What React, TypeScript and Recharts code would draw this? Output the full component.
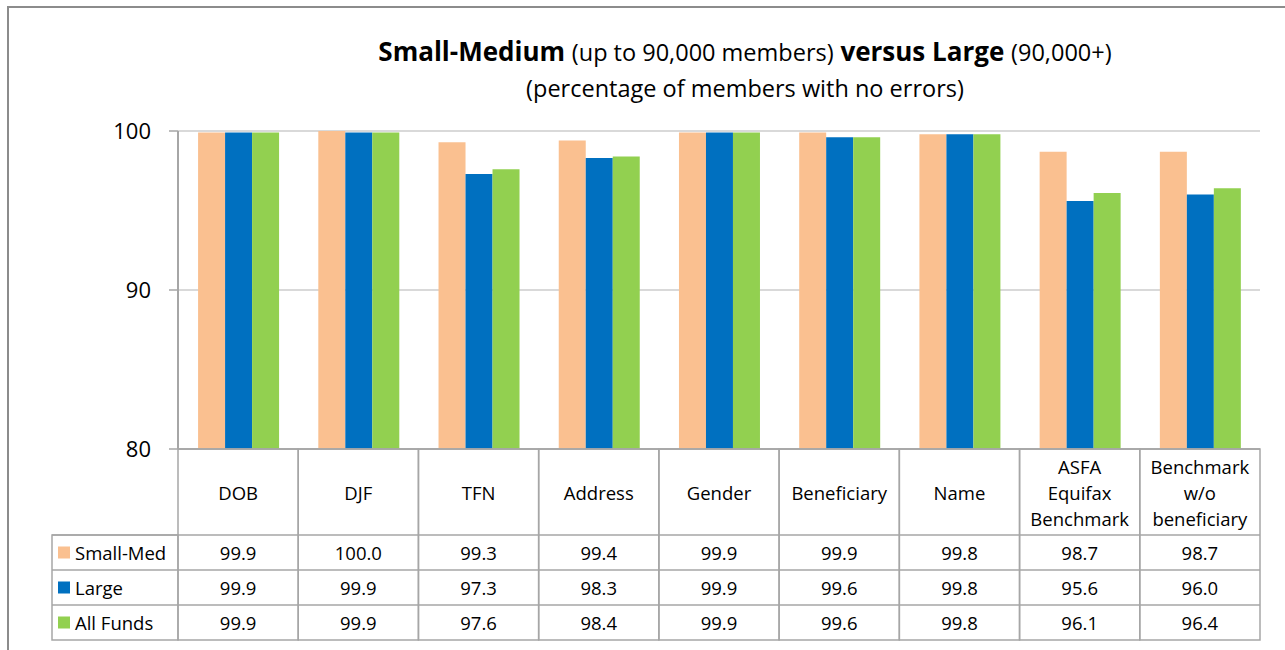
import React from 'react';
import { BarChart, Bar, XAxis, YAxis, CartesianGrid } from 'recharts';

const categories = ['DOB', 'DJF', 'TFN', 'Address', 'Gender', 'Beneficiary', 'Name', 'ASFA\nEquifax\nBenchmark', 'Benchmark\nw/o\nbeneficiary'];
const smallMed = [99.9, 100.0, 99.3, 99.4, 99.9, 99.9, 99.8, 98.7, 98.7];
const large = [99.9, 99.9, 97.3, 98.3, 99.9, 99.6, 99.8, 95.6, 96.0];
const allFunds = [99.9, 99.9, 97.6, 98.4, 99.9, 99.6, 99.8, 96.1, 96.4];
const yTicks = [80, 90, 100];

const seriesList = [
  { key: 'smallMed', name: 'Small-Med', color: '#FAC090', values: smallMed },
  { key: 'large', name: 'Large', color: '#0070C0', values: large },
  { key: 'allFunds', name: 'All Funds', color: '#92D050', values: allFunds },
];

const data = categories.map((name, i) => ({
  name,
  smallMed: smallMed[i],
  large: large[i],
  allFunds: allFunds[i],
}));

const W = 1285;
const H = 650;
const LEFT = 178;
const RIGHT = 25;
const TOP = 131;
const AXIS_H = 201;
const COL_W = (W - LEFT - RIGHT) / categories.length;
const HEAD_H = 86;
const ROW_H = 35;
const LABEL_W = 126;
const FONT = '"Open Sans", sans-serif';
const LINE = '#a6a6a6';

const TableTick = (props: any) => {
  const { x, y, payload, index } = props;
  const left = x - COL_W / 2;
  const lines = String(payload.value).split('\n');
  const midHead = y + HEAD_H / 2;
  return (
    <g fontFamily={FONT} fontSize={18.5} fill="#000">
      <rect x={left} y={y} width={COL_W} height={HEAD_H + ROW_H * 3} fill="none" stroke={LINE} strokeWidth={1.5} />
      {seriesList.map((s, r) => (
        <line key={s.key} x1={left} x2={left + COL_W} y1={y + HEAD_H + ROW_H * r} y2={y + HEAD_H + ROW_H * r} stroke={LINE} strokeWidth={1.5} />
      ))}
      <text x={x} y={midHead - ((lines.length - 1) * 26) / 2} textAnchor="middle" dominantBaseline="central">
        {lines.map((l, i) => (
          <tspan key={i} x={x} dy={i === 0 ? 0 : 26}>{l}</tspan>
        ))}
      </text>
      {seriesList.map((s, r) => (
        <text key={s.key} x={x} y={y + HEAD_H + ROW_H * r + ROW_H / 2} textAnchor="middle" dominantBaseline="central">
          {s.values[index].toFixed(1)}
        </text>
      ))}
      {index === 0 && (
        <g>
          <rect x={left - LABEL_W} y={y + HEAD_H} width={LABEL_W} height={ROW_H * 3} fill="none" stroke={LINE} strokeWidth={1.5} />
          {seriesList.map((s, r) => {
            const cy = y + HEAD_H + ROW_H * r + ROW_H / 2;
            return (
              <g key={s.key}>
                <line x1={left - LABEL_W} x2={left} y1={cy - ROW_H / 2} y2={cy - ROW_H / 2} stroke={LINE} strokeWidth={1.5} />
                <rect x={left - LABEL_W + 6} y={cy - 6} width={12} height={12} fill={s.color} />
                <text x={left - LABEL_W + 23} y={cy} dominantBaseline="central">{s.name}</text>
              </g>
            );
          })}
        </g>
      )}
    </g>
  );
};

export default function App() {
  return (
    <div style={{ position: 'absolute', left: 0, top: 0, width: W, height: H, background: '#fff', overflow: 'hidden' }}>
      <div style={{ position: 'absolute', left: 7, top: 6, width: W, height: H, borderLeft: '2px solid #8c8c8c', borderTop: '2px solid #8c8c8c' }} />
      <div style={{ position: 'absolute', left: 745 - 450, top: 33, width: 900, textAlign: 'center', fontFamily: FONT, fontSize: 26, lineHeight: '36px', color: '#000' }}>
        <div>
          <b>Small-Medium</b> <span style={{ fontSize: 23.5 }}>(up to 90,000 members)</span> <b>versus Large</b> <span style={{ fontSize: 23.5 }}>(90,000+)</span>
        </div>
        <div style={{ fontSize: 23.5 }}>(percentage of members with no errors)</div>
      </div>
      <div style={{ position: 'absolute', left: 0, top: 0 }}>
        <BarChart width={W} height={H} data={data} margin={{ top: TOP, right: RIGHT, bottom: 0, left: 0 }} barCategoryGap="16.7%" barGap={0}>
          <CartesianGrid vertical={false} stroke="#d9d9d9" strokeWidth={2} />
          <XAxis dataKey="name" height={AXIS_H} interval={0} tickSize={0} tickMargin={0} tickLine={false} axisLine={{ stroke: LINE, strokeWidth: 1.5 }} tick={<TableTick />} />
          <YAxis width={LEFT} domain={[80, 100]} ticks={yTicks} interval={0} tickSize={9} tickMargin={18} axisLine={{ stroke: LINE, strokeWidth: 2 }} tickLine={{ stroke: LINE, strokeWidth: 1.5 }} tick={{ fill: '#000', fontSize: 22, fontFamily: FONT }} />
          {seriesList.map((s) => (
            <Bar key={s.key} dataKey={s.key} name={s.name} fill={s.color} isAnimationActive={false} />
          ))}
        </BarChart>
      </div>
    </div>
  );
}
